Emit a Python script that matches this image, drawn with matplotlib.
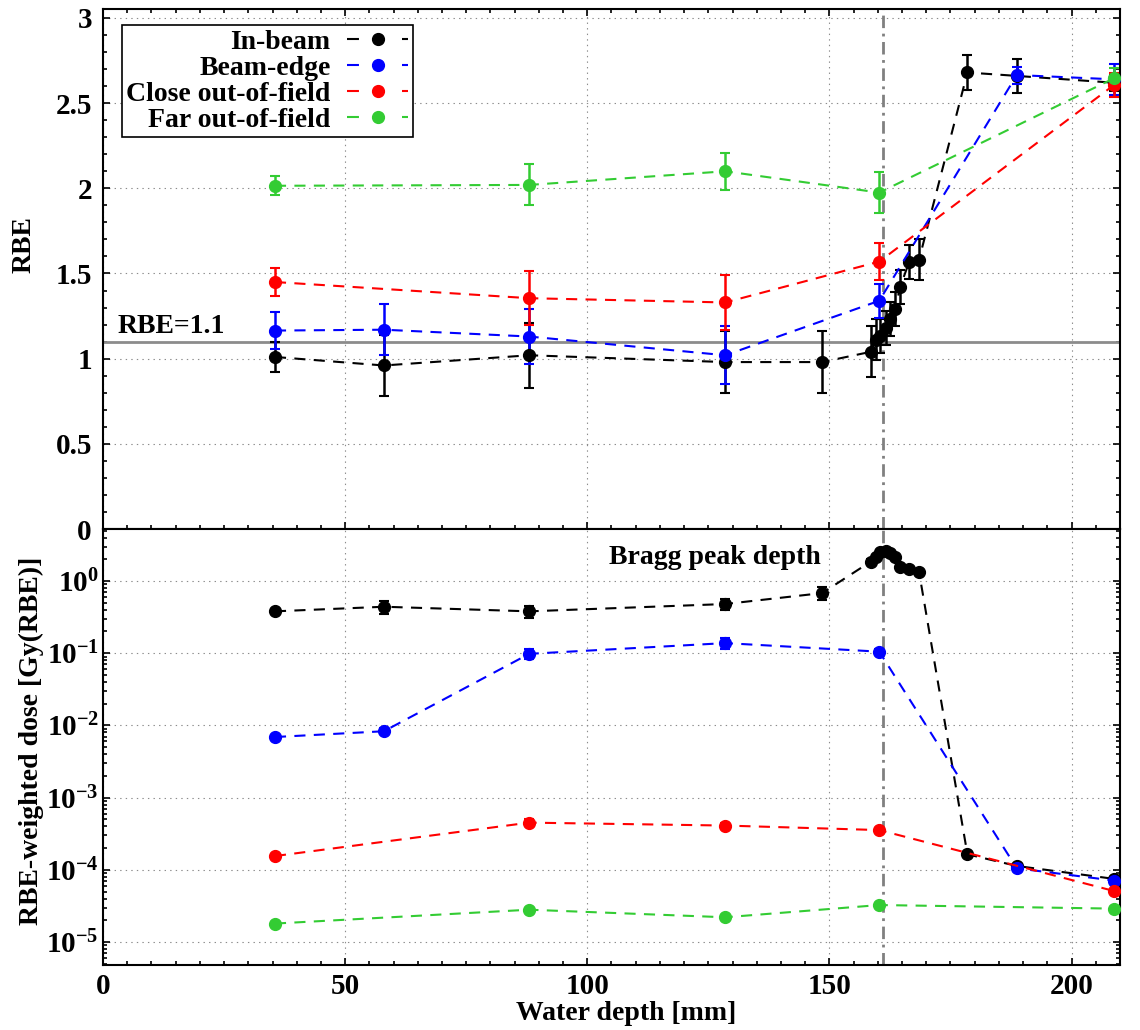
import numpy as np
import matplotlib
matplotlib.use('Agg')
import matplotlib.pyplot as plt
from matplotlib.lines import Line2D
from matplotlib.ticker import MultipleLocator, FixedLocator, FixedFormatter, LogLocator, NullFormatter

# In-beam (black)
depth_in = [35.5, 58, 88, 128.5, 148.5, 158.5, 159.6, 160.5, 161.6, 162.6, 163.6, 164.6, 166.5, 168.5, 178.5, 188.7, 208.7]
rbe_in = [1.01, 0.96, 1.02, 0.98, 0.98, 1.04, 1.11, 1.135, 1.18, 1.235, 1.29, 1.42, 1.57, 1.58, 2.68, 2.66, 2.62]
rbe_in_err = [0.09, 0.18, 0.19, 0.18, 0.18, 0.15, 0.12, 0.1, 0.1, 0.1, 0.1, 0.1, 0.1, 0.12, 0.1, 0.1, 0.05]
dose_in = [0.38, 0.44, 0.38, 0.48, 0.68, 1.85, 2.17, 2.55, 2.63, 2.44, 2.17, 1.58, 1.47, 1.35, 1.64e-4, 1.13e-4, 7.5e-5]
dose_in_err = [0.03, 0.09, 0.07, 0.08, 0.14, 0.15, 0.15, 0.15, 0.15, 0.15, 0.12, 0.1, 0.08, 0.08, 1e-5, 8e-6, 5e-6]

# Beam-edge (blue)
depth_edge = [35.5, 58, 88, 128.5, 160.3, 188.7, 208.7]
rbe_edge = [1.165, 1.17, 1.13, 1.02, 1.34, 2.665, 2.64]
rbe_edge_err = [0.11, 0.15, 0.16, 0.17, 0.1, 0.05, 0.09]
dose_edge = [6.9e-3, 8.3e-3, 0.098, 0.138, 0.105, 1.05e-4, 7.1e-5]
dose_edge_err = [4e-4, 8e-4, 0.015, 0.025, 0.008, 8e-6, 5e-6]

# Close out-of-field (red)
depth_close = [35.5, 88, 128.5, 160.3, 208.7]
rbe_close = [1.45, 1.355, 1.33, 1.57, 2.605]
rbe_close_err = [0.085, 0.16, 0.16, 0.11, 0.07]
dose_close = [1.55e-4, 4.5e-4, 4.1e-4, 3.55e-4, 5.1e-5]
dose_close_err = [1e-5, 5e-5, 4e-5, 2e-5, 4e-6]

# Far out-of-field (green)
depth_far = [35.5, 88, 128.5, 160.3, 208.7]
rbe_far = [2.015, 2.02, 2.10, 1.975, 2.645]
rbe_far_err = [0.055, 0.12, 0.11, 0.12, 0.06]
dose_far = [1.8e-5, 2.8e-5, 2.2e-5, 3.25e-5, 2.9e-5]
dose_far_err = [1e-6, 2e-6, 1.5e-6, 2e-6, 2e-6]

labels = ['In-beam', 'Beam-edge', 'Close out-of-field', 'Far out-of-field']
colors = ['black', '#0000ff', '#ff0000', '#33cc33']
bragg_depth = 161.0

plt.rcParams['font.family'] = 'Liberation Serif'
plt.rcParams['font.weight'] = 'bold'
plt.rcParams['axes.labelweight'] = 'bold'
plt.rcParams['font.size'] = 20
plt.rcParams['mathtext.fontset'] = 'custom'
plt.rcParams['mathtext.bf'] = 'Liberation Serif:bold'
plt.rcParams['mathtext.rm'] = 'Liberation Serif:bold'
plt.rcParams['lines.scale_dashes'] = False
plt.rcParams['axes.linewidth'] = 1.5

fig = plt.figure(figsize=(11.4, 10.3), dpi=100)
ax1 = fig.add_axes([0.0904, 0.4864, 0.892, 0.5049])
ax2 = fig.add_axes([0.0904, 0.0631, 0.892, 0.4233])

series = [
    (depth_in, rbe_in, rbe_in_err, dose_in, dose_in_err),
    (depth_edge, rbe_edge, rbe_edge_err, dose_edge, dose_edge_err),
    (depth_close, rbe_close, rbe_close_err, dose_close, dose_close_err),
    (depth_far, rbe_far, rbe_far_err, dose_far, dose_far_err),
]

dash = (0, (8, 6))
for (d, r, re, q, qe), c in zip(series, colors):
    ax1.errorbar(d, r, yerr=re, color=c, ls=dash, lw=1.5, marker='o', ms=8.5,
                 capsize=3.5, elinewidth=1.8, capthick=1.5, zorder=3)
    ax2.errorbar(d, q, yerr=qe, color=c, ls=dash, lw=1.5, marker='o', ms=8.5,
                 capsize=3.5, elinewidth=1.8, capthick=1.5, zorder=3)

# reference lines
ax1.axhline(1.1, color='0.55', lw=2, zorder=2)
ax1.text(2.9, 1.15, 'RBE=1.1', fontsize=20, va='baseline', ha='left')
for ax in (ax1, ax2):
    ax.axvline(bragg_depth, color='0.5', lw=2, ls=(0, (9, 4, 2, 4)), zorder=2)
ax2.text(104.5, 1.72, 'Bragg peak depth', fontsize=20, va='baseline', ha='left')

# top panel axes
ax1.set_xlim(0, 210)
ax1.set_ylim(0, 3.053)
ax1.xaxis.set_major_locator(MultipleLocator(50))
ax1.xaxis.set_minor_locator(MultipleLocator(5))
ax1.yaxis.set_major_locator(MultipleLocator(0.5))
ax1.yaxis.set_minor_locator(MultipleLocator(0.1))
ax1.yaxis.set_major_formatter(matplotlib.ticker.FormatStrFormatter('%g'))
ax1.tick_params(labelbottom=False)
ax1.set_ylabel('RBE')
ax1.yaxis.set_label_coords(-0.065, 0.546)

# bottom panel axes
ax2.set_xlim(0, 210)
ax2.set_yscale('log')
ax2.set_ylim(4.8e-6, 5.25)
ax2.xaxis.set_major_locator(MultipleLocator(50))
ax2.xaxis.set_minor_locator(MultipleLocator(5))
decades = [1e-5, 1e-4, 1e-3, 1e-2, 1e-1, 1e0]
decade_labels = [r'$\mathbf{10^{-5}}$', r'$\mathbf{10^{-4}}$', r'$\mathbf{10^{-3}}$',
                 r'$\mathbf{10^{-2}}$', r'$\mathbf{10^{-1}}$', r'$\mathbf{10^{0}}$']
ax2.yaxis.set_major_locator(FixedLocator(decades))
ax2.yaxis.set_major_formatter(FixedFormatter(decade_labels))
ax2.yaxis.set_minor_locator(LogLocator(base=10, subs=np.arange(2, 10)))
ax2.yaxis.set_minor_formatter(NullFormatter())
ax2.set_xlabel('Water depth [mm]')
ax2.xaxis.set_label_coords(0.514, -0.083)
ax2.set_ylabel('RBE-weighted dose [Gy(RBE)]')
ax2.yaxis.set_label_coords(-0.058, 0.514)

for ax in (ax1, ax2):
    ax.grid(True, which='major', ls=(0, (1, 3)), color='0.55', lw=0.8)
    ax.tick_params(which='both', direction='in', right=True, width=1.2, labelsize=21)
    ax.tick_params(which='major', length=5, pad=6)
    ax.tick_params(which='minor', length=3)
ax1.tick_params(which='both', top=True)
ax2.tick_params(which='both', top=False)
ax1.tick_params(axis='y', pad=8)
ax2.tick_params(axis='y', pad=3)

handles = [Line2D([], [], color=c, ls=(0, (8.6, 31)), lw=1.5, marker='o', ms=8.5) for c in colors]
leg = ax1.legend(handles, labels, loc='upper left', bbox_to_anchor=(0.0187, 0.969),
                 borderaxespad=0, markerfirst=False, fancybox=False, framealpha=1,
                 edgecolor='black', handlelength=2.2, labelspacing=0.02,
                 borderpad=0.15, handletextpad=0.6, fontsize=20)
leg.get_frame().set_linewidth(1.2)

fig.savefig('out.png', dpi=100)
